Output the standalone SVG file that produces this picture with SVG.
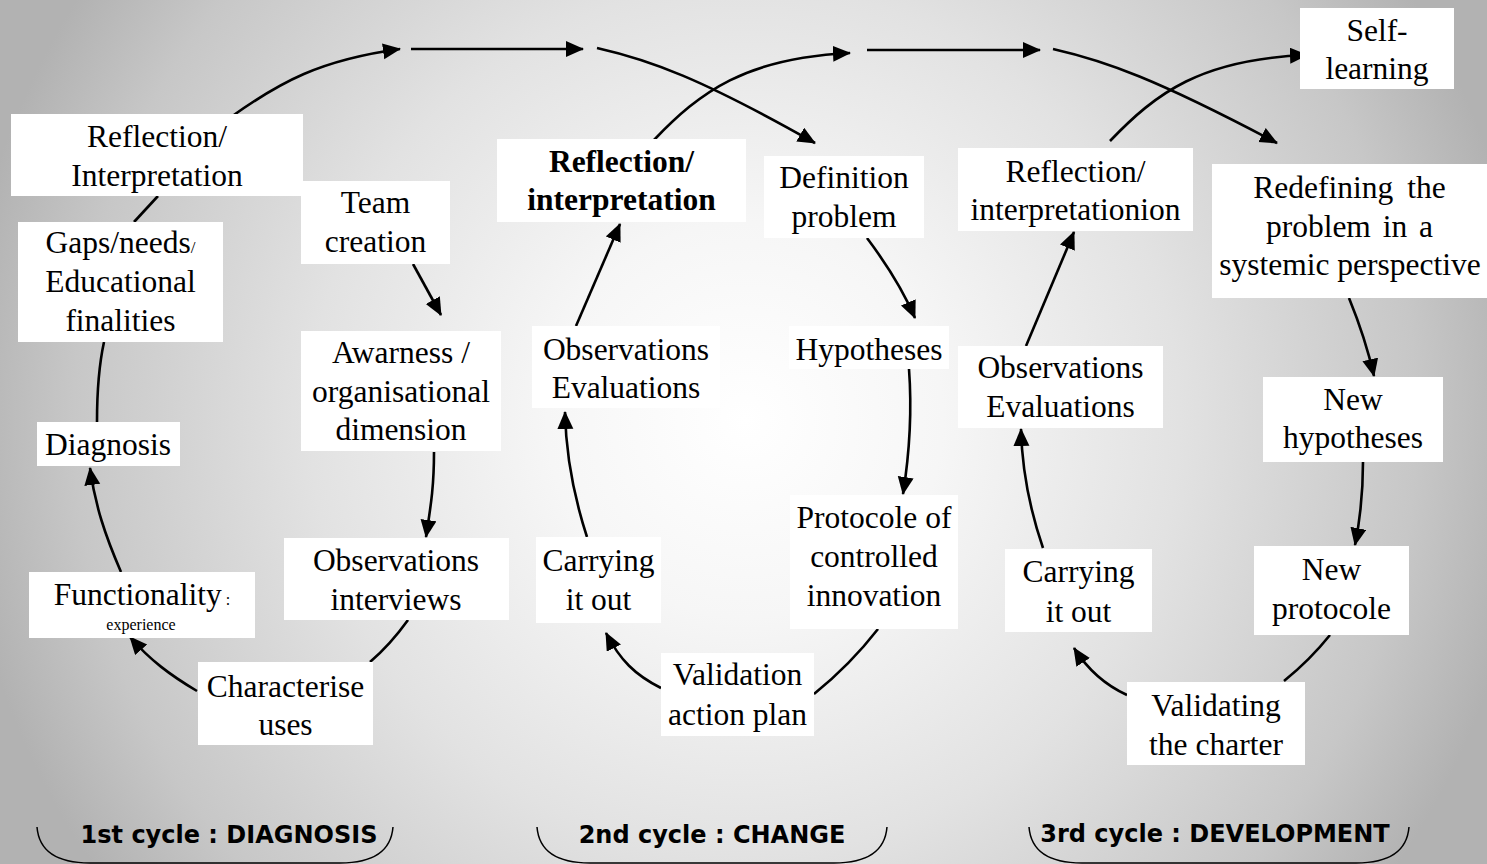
<svg xmlns="http://www.w3.org/2000/svg" width="1487" height="864" viewBox="0 0 1487 864">
<defs>
<radialGradient id="bg" gradientUnits="userSpaceOnUse" cx="745" cy="420" r="790">
<stop offset="0" stop-color="#ffffff"/>
<stop offset="0.25" stop-color="#f6f6f6"/>
<stop offset="0.55" stop-color="#e2e2e2"/>
<stop offset="0.85" stop-color="#c7c7c7"/>
<stop offset="1" stop-color="#b2b2b2"/>
</radialGradient>
<marker id="ah" markerUnits="userSpaceOnUse" markerWidth="20" markerHeight="18" refX="17" refY="8" orient="auto">
<path d="M0,0 L18,8 L0,16 z" fill="#000"/>
</marker>
<style>
.box{fill:#fff}
.t{font-family:"Liberation Serif","Times New Roman",serif;font-size:31.5px;text-anchor:middle;fill:#000}
.b{font-weight:bold}
.s{font-size:16px}
.lab{font-family:"DejaVu Sans",Verdana,sans-serif;font-size:24px;font-weight:bold;text-anchor:middle;fill:#000}
.c{fill:none;stroke:#000;stroke-width:2.6}
.a{marker-end:url(#ah)}
.br{fill:none;stroke:#000;stroke-width:1.5}
</style>
</defs>
<rect width="1487" height="864" fill="url(#bg)"/>

<g id="connectors">
<!-- top flow -->
<path class="c a" d="M231,117 C280,82 320,60 400,49"/>
<path class="c a" d="M411,49 L583,49"/>
<path class="c a" d="M597,48 C650,60 700,78 815,143"/>
<path class="c a" d="M654,140 C700,92 745,58 850,53"/>
<path class="c a" d="M867,50 L1040,50"/>
<path class="c a" d="M1053,49 C1106,61 1156,79 1277,143"/>
<path class="c a" d="M1110,141 C1156,93 1201,59 1307,55"/>
<!-- cycle 1 -->
<path class="c" d="M158,196 L134,222"/>
<path class="c" d="M97,422 C97,390 99,365 104,342"/>
<path class="c a" d="M121,572 C105,535 95,505 90,468"/>
<path class="c a" d="M197,691 C170,675 150,660 130,637"/>
<path class="c" d="M408,620 Q390,645 370,662"/>
<path class="c a" d="M434,452 C434,490 430,510 426,537"/>
<path class="c a" d="M413,264 L441,315"/>
<!-- cycle 2 -->
<path class="c a" d="M867,238 C885,262 903,290 915,318"/>
<path class="c a" d="M909,369 C912,410 910,450 903,494"/>
<path class="c" d="M878,629 Q850,665 814,694"/>
<path class="c a" d="M661,688 C635,675 620,660 606,633"/>
<path class="c a" d="M587,537 C575,500 566,460 565,412"/>
<path class="c a" d="M576,326 L620,224"/>
<!-- cycle 3 -->
<path class="c a" d="M1349,298 C1358,320 1367,345 1374,376"/>
<path class="c a" d="M1363,462 C1363,495 1360,520 1355,545"/>
<path class="c" d="M1330,635 Q1310,660 1284,681"/>
<path class="c a" d="M1127,695 C1105,685 1088,670 1074,648"/>
<path class="c a" d="M1043,548 C1030,510 1022,470 1021,429"/>
<path class="c a" d="M1026,346 L1074,232"/>
</g>

<!-- cycle 1 nodes -->
<g id="n-reflection1"><rect class="box" x="11" y="114" width="292" height="82"/>
<text class="t" x="157" y="147">Reflection/</text><text class="t" x="157" y="186">Interpretation</text></g>
<g id="n-team"><rect class="box" x="301" y="181" width="149" height="83"/>
<text class="t" x="375.5" y="213">Team</text><text class="t" x="375.5" y="252">creation</text></g>
<g id="n-gaps"><rect class="box" x="18" y="222" width="205" height="120"/>
<text class="t" x="120.5" y="253">Gaps/needs<tspan font-size="17">/</tspan></text><text class="t" x="120.5" y="292">Educational</text><text class="t" x="120.5" y="331">finalities</text></g>
<g id="n-diagnosis"><rect class="box" x="37" y="422" width="143" height="44"/>
<text class="t" x="108" y="455">Diagnosis</text></g>
<g id="n-awareness"><rect class="box" x="301" y="331" width="200" height="120"/>
<text class="t" x="401" y="363">Awarness /</text><text class="t" x="401" y="402">organisational</text><text class="t" x="401" y="440">dimension</text></g>
<g id="n-obsint"><rect class="box" x="284" y="538" width="225" height="82"/>
<text class="t" x="396" y="571">Observations</text><text class="t" x="396" y="610">interviews</text></g>
<g id="n-functionality"><rect class="box" x="29" y="572" width="226" height="66"/>
<text class="t" x="142" y="605">Functionality<tspan class="s">  :</tspan></text><text class="t s" x="141" y="630">experience</text></g>
<g id="n-characterise"><rect class="box" x="198" y="662" width="175" height="83"/>
<text class="t" x="285.5" y="697">Characterise</text><text class="t" x="285.5" y="735">uses</text></g>

<!-- cycle 2 nodes -->
<g id="n-reflection2"><rect class="box" x="497" y="139" width="249" height="83"/>
<text class="t b" x="621.5" y="172">Reflection/</text><text class="t b" x="621.5" y="210">interpretation</text></g>
<g id="n-definition"><rect class="box" x="764" y="156" width="160" height="82"/>
<text class="t" x="844" y="188">Definition</text><text class="t" x="844" y="227">problem</text></g>
<g id="n-obseval2"><rect class="box" x="532" y="326" width="188" height="82"/>
<text class="t" x="626" y="360">Observations</text><text class="t" x="626" y="398">Evaluations</text></g>
<g id="n-hypotheses"><rect class="box" x="789" y="326" width="160" height="43"/>
<text class="t" x="869" y="360">Hypotheses</text></g>
<g id="n-carrying2"><rect class="box" x="536" y="537" width="125" height="86"/>
<text class="t" x="598.5" y="571">Carrying</text><text class="t" x="598.5" y="610">it out</text></g>
<g id="n-protocole"><rect class="box" x="790" y="495" width="168" height="134"/>
<text class="t" x="874" y="528">Protocole of</text><text class="t" x="874" y="567">controlled</text><text class="t" x="874" y="606">innovation</text></g>
<g id="n-validation"><rect class="box" x="661" y="653" width="153" height="83"/>
<text class="t" x="737.5" y="685">Validation</text><text class="t" x="737.5" y="725">action plan</text></g>

<!-- cycle 3 nodes -->
<g id="n-selflearning"><rect class="box" x="1300" y="8" width="154" height="81"/>
<text class="t" x="1377" y="41">Self-</text><text class="t" x="1377" y="79">learning</text></g>
<g id="n-reflection3"><rect class="box" x="958" y="148" width="235" height="83"/>
<text class="t" x="1075.5" y="182">Reflection/</text><text class="t" x="1075.5" y="220">interpretationion</text></g>
<g id="n-redefining"><rect class="box" x="1212" y="164" width="275" height="134"/>
<text class="t" x="1349.5" y="198" word-spacing="6">Redefining the</text><text class="t" x="1349.5" y="237" word-spacing="4">problem in a</text><text class="t" x="1350" y="275">systemic perspective</text></g>
<g id="n-obseval3"><rect class="box" x="958" y="346" width="205" height="82"/>
<text class="t" x="1060.5" y="378">Observations</text><text class="t" x="1060.5" y="417">Evaluations</text></g>
<g id="n-newhyp"><rect class="box" x="1263" y="377" width="180" height="85"/>
<text class="t" x="1353" y="410">New</text><text class="t" x="1353" y="448">hypotheses</text></g>
<g id="n-carrying3"><rect class="box" x="1005" y="549" width="147" height="83"/>
<text class="t" x="1078.5" y="582">Carrying</text><text class="t" x="1078.5" y="622">it out</text></g>
<g id="n-newprot"><rect class="box" x="1254" y="546" width="155" height="89"/>
<text class="t" x="1331.5" y="580">New</text><text class="t" x="1331.5" y="619">protocole</text></g>
<g id="n-validating"><rect class="box" x="1127" y="682" width="178" height="83"/>
<text class="t" x="1216" y="716">Validating</text><text class="t" x="1216" y="755">the charter</text></g>

<!-- cycle labels -->
<g id="label1"><path class="br" d="M37,827 C39,852 58,863 90,863 L340,863 C372,863 391,852 393,827"/>
<text class="lab" x="229" y="843">1st cycle : DIAGNOSIS</text></g>
<g id="label2"><path class="br" d="M537,827 C539,852 558,863 590,863 L834,863 C866,863 885,852 887,827"/>
<text class="lab" x="712" y="843">2nd cycle : CHANGE</text></g>
<g id="label3"><path class="br" d="M1029,827 C1031,852 1050,863 1082,863 L1356,863 C1388,863 1407,852 1409,827"/>
<text class="lab" x="1215" y="842">3rd cycle : DEVELOPMENT</text></g>
</svg>
